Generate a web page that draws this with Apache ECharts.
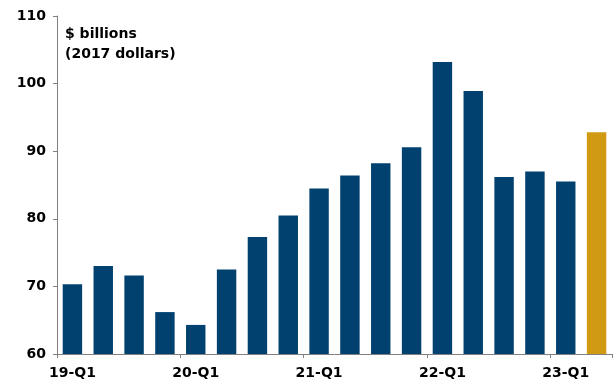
<!DOCTYPE html>
<html>
<head>
<meta charset="utf-8">
<script src="https://cdn.jsdelivr.net/npm/echarts@6/dist/echarts.min.js"></script>
<style>
  html, body { margin: 0; padding: 0; background: #fff; }
  #container { width: 615px; height: 383px; }
</style>
</head>
<body>
<div id="container"></div>
<script>
var quarters = ['19-Q1', '19-Q2', '19-Q3', '19-Q4',
                '20-Q1', '20-Q2', '20-Q3', '20-Q4',
                '21-Q1', '21-Q2', '21-Q3', '21-Q4',
                '22-Q1', '22-Q2', '22-Q3', '22-Q4',
                '23-Q1', '23-Q2'];
var values = [70.3, 73.0, 71.6, 66.2, 64.3, 72.5, 77.3, 80.5,
              84.5, 86.4, 88.2, 90.6, 103.2, 98.9, 86.2, 87.0, 85.5, 92.8];
var blue = '#01416f';
var gold = '#d19a13';

(function(){
    var myChart = echarts.init(document.getElementById('container'));
    var font = 'DejaVu Sans, sans-serif';
    var option = {
        animation: false,
        grid: { left: 57, right: 3, top: 16, bottom: 29, containLabel: false },
        graphic: [{
            type: 'text',
            left: 65,
            top: 24,
            style: {
                text: '$ billions\n(2017 dollars)',
                font: 'bold 14px ' + font,
                fill: '#000',
                lineHeight: 20
            }
        }],
        xAxis: {
            type: 'category',
            data: quarters,
            boundaryGap: true,
            axisLine: { lineStyle: { color: '#808080', width: 1 } },
            axisTick: { show: true, interval: 3, length: 4, lineStyle: { color: '#808080' } },
            axisLabel: {
                interval: 3,
                color: '#000',
                fontWeight: 'bold',
                fontSize: 14,
                fontFamily: font,
                margin: 12
            }
        },
        yAxis: {
            type: 'value',
            min: 60,
            max: 110,
            interval: 10,
            splitLine: { show: false },
            axisLine: { show: true, lineStyle: { color: '#808080', width: 1 } },
            axisTick: { show: true, length: 4, lineStyle: { color: '#808080' } },
            axisLabel: {
                color: '#000',
                fontWeight: 'bold',
                fontSize: 14,
                fontFamily: font,
                margin: 11
            }
        },
        series: [{
            type: 'bar',
            barWidth: '63%',
            data: values.map(function (v, i) {
                return { value: v, itemStyle: { color: i === values.length - 1 ? gold : blue } };
            })
        }]
    };
    myChart.setOption(option, true);
})();
</script>
</body>
</html>
